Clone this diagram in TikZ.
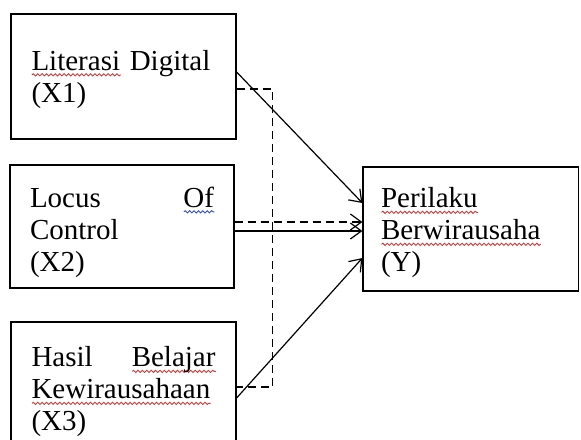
\documentclass[tikz,border=0pt]{standalone}
\usepackage{fontspec}
\setmainfont{Liberation Serif}
\usepackage{tikz}
\usetikzlibrary{arrows.meta, calc, decorations.pathmorphing}
\definecolor{spellc}{HTML}{D03A3A}
\definecolor{grammc}{HTML}{2F4FC0}
\newlength{\wavylen}
\newcommand{\wavy}[2][spellc]{%
  \leavevmode\settowidth{\wavylen}{#2}%
  \rlap{\tikz[baseline=0pt]\draw[#1, line width=0.45pt, solid, decorate,
      decoration={snake, amplitude=0.55pt, segment length=2.2pt}]
    (0pt,-2.2pt) -- (\wavylen,-2.2pt);}#2}

\begin{document}
\begin{tikzpicture}[x=0.5pt, y=-0.5pt, >={Straight Barb[length=5.5pt, width=8pt]},
    varbox/.style={draw, line width=0.6pt, inner xsep=9pt, inner ysep=0pt,
      align=left, font=\fontsize{14.5}{16}\selectfont},
    link/.style={line width=0.6pt, ->},
    guide/.style={line width=0.6pt, dash pattern=on 4pt off 2.5pt}]
  \useasboundingbox (0,0) rectangle (581,439);
  \node[varbox, minimum width=112.5pt, minimum height=62.5pt, text width=92pt]
    (x1) at (123.5,76.5) {\rule{0pt}{13pt}\wavy{Literasi} Digital\\(X1)};
  \node[varbox, minimum width=112pt, minimum height=61.5pt, text width=92pt]
    (x2) at (122,226.5) {\rule{0pt}{16pt}Locus\hfill\wavy[grammc]{Of}\\Control\\(X2)};
  \node[varbox, minimum width=112.5pt, minimum height=70pt, text width=92pt]
    (x3) at (123.5,392) {Hasil\hfill\wavy{Belajar}\\\wavy{Kewirausahaan}\\(X3)};
  \node[varbox, minimum width=107.75pt, minimum height=62pt, text width=89.75pt]
    (y) at (470.75,229) {\rule{0pt}{14pt}\wavy{Perilaku}\\\wavy{Berwirausaha}\\(Y)};

  \draw[link] ($(x1.east)+(0,-4.5)$) -- ($(y.west)+(0,-26)$);
  \draw[guide] ($(x1.east)+(0,12.5)$) -| ($(x3.east)+(36,-5)$)
    -- ($(x3.east)+(0,-5)$);
  \draw[guide, ->] ($(x2.east)+(0,-4.5)$) coordinate (d2) -- (d2 -| y.west);
  \draw[link] ($(x2.east)+(0,4.5)$) coordinate (s2) -- (s2 -| y.west);
  \draw[link] ($(x3.east)+(0,6)$) -- ($(y.west)+(0,29)$);
\end{tikzpicture}
\end{document}
